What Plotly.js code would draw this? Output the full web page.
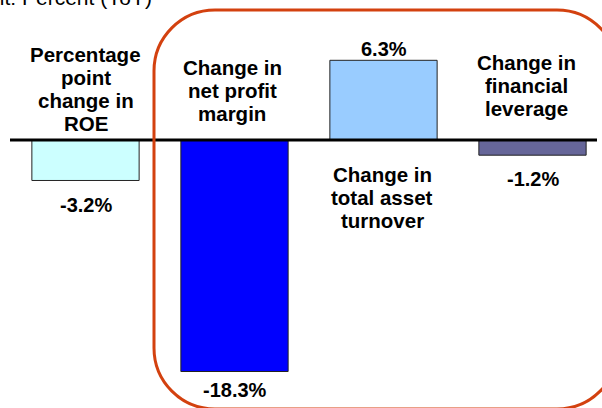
<!DOCTYPE html>
<html>
<head>
<meta charset="utf-8">
<script src="https://cdn.plot.ly/plotly-3.0.1.min.js"></script>
<style>html,body{margin:0;padding:0;background:#fff;}#chart{width:602px;height:408px;}</style>
</head>
<body>
<div id="chart"></div>
<script>
// ---- data ----
const categories = ['ROE', 'Net profit margin', 'Total asset turnover', 'Financial leverage'];
const labelLines = [
  ['Percentage', 'point', 'change in', 'ROE'],
  ['Change in', 'net profit', 'margin'],
  ['Change in', 'total asset', 'turnover'],
  ['Change in', 'financial', 'leverage']
];
const values = [-3.2, -18.3, 6.3, -1.2];
const valueLabels = ['-3.2%', '-18.3%', '6.3%', '-1.2%'];
const unitText = 'Unit: Percent (YoY)';

// ---- style ----
const barColors = ['#ccffff', '#0000ff', '#99ccff', '#666699'];
const labelFirstBaseline = [62, 75, 182, 70];   // px
const labelXShift = [0, -2.5, -1.5, -6];
const valueYShift = [-25, -18, 11, -23.5];
const W = 602, H = 408, M = {l: 10, r: 5, t: 0, b: 0};
const FONT = 'Liberation Sans, Arial, sans-serif';
const LBL = 20.5, VAL = 20, LINE = 23;

const pw = W - M.l - M.r, ph = H - M.t - M.b;
const pxX = px => (px - M.l) / pw;
const pxY = py => 1 - (py - M.t) / ph;

const xIdx = categories.map((c, i) => i);

const annotations = [];
labelLines.forEach((lines, i) => {
  lines.forEach((t, k) => {
    annotations.push({
      x: xIdx[i], xref: 'x', xshift: labelXShift[i],
      y: pxY(labelFirstBaseline[i] + k * LINE - 0.3465 * LBL), yref: 'paper',
      xanchor: 'center', yanchor: 'middle', showarrow: false,
      text: t, font: {family: FONT, size: LBL, color: '#000', weight: 'bold'}
    });
  });
});
values.forEach((v, i) => {
  annotations.push({
    x: xIdx[i], xref: 'x', y: v, yref: 'y', yshift: valueYShift[i],
    xanchor: 'center', yanchor: 'middle', showarrow: false,
    text: valueLabels[i], font: {family: FONT, size: VAL, color: '#000', weight: 'bold'}
  });
});
annotations.push({
  x: pxX(154), xref: 'paper', xanchor: 'right',
  y: pxY(5 - 0.3465 * 21), yref: 'paper', yanchor: 'middle',
  showarrow: false, text: unitText,
  font: {family: FONT, size: 21, color: '#000'}
});

function roundRect(x0, y0, x1, y1, r) {
  const k = 0.5523 * r;
  const P = (x, y) => pxX(x) + ',' + pxY(y);
  return 'M' + P(x0, y0 + r) +
    ' C' + P(x0, y0 + r - k) + ' ' + P(x0 + r - k, y0) + ' ' + P(x0 + r, y0) +
    ' L' + P(x1 - r, y0) +
    ' C' + P(x1 - r + k, y0) + ' ' + P(x1, y0 + r - k) + ' ' + P(x1, y0 + r) +
    ' L' + P(x1, y1 - r) +
    ' C' + P(x1, y1 - r + k) + ' ' + P(x1 - r + k, y1) + ' ' + P(x1 - r, y1) +
    ' L' + P(x0 + r, y1) +
    ' C' + P(x0 + r - k, y1) + ' ' + P(x0, y1 - r + k) + ' ' + P(x0, y1 - r) + ' Z';
}

const shapes = [
  {type: 'line', xref: 'paper', yref: 'y', x0: 0, x1: 1, y0: 0, y1: 0,
   line: {color: '#000', width: 3}, layer: 'above'},
  {type: 'path', xref: 'paper', yref: 'paper', path: roundRect(154, 10, 618, 409, 61),
   line: {color: '#d3410f', width: 3}, fillcolor: 'rgba(0,0,0,0)', layer: 'above'}
];

const scale = 12.65;
const data = [{
  type: 'bar', x: xIdx, y: values, width: 0.72,
  marker: {color: barColors, line: {color: '#222', width: 1}},
  hoverinfo: 'skip'
}];

const layout = {
  width: W, height: H, margin: M,
  paper_bgcolor: '#fff', plot_bgcolor: '#fff', showlegend: false,
  xaxis: {range: [-0.5067, 3.4329], showgrid: false, zeroline: false, showticklabels: false, showline: false, ticks: ''},
  yaxis: {range: [-(H - 140) / scale, 140 / scale], showgrid: false, zeroline: false, showticklabels: false, showline: false, ticks: ''},
  annotations: annotations, shapes: shapes
};

Plotly.newPlot('chart', data, layout, {staticPlot: true, displayModeBar: false});
</script>
</body>
</html>
